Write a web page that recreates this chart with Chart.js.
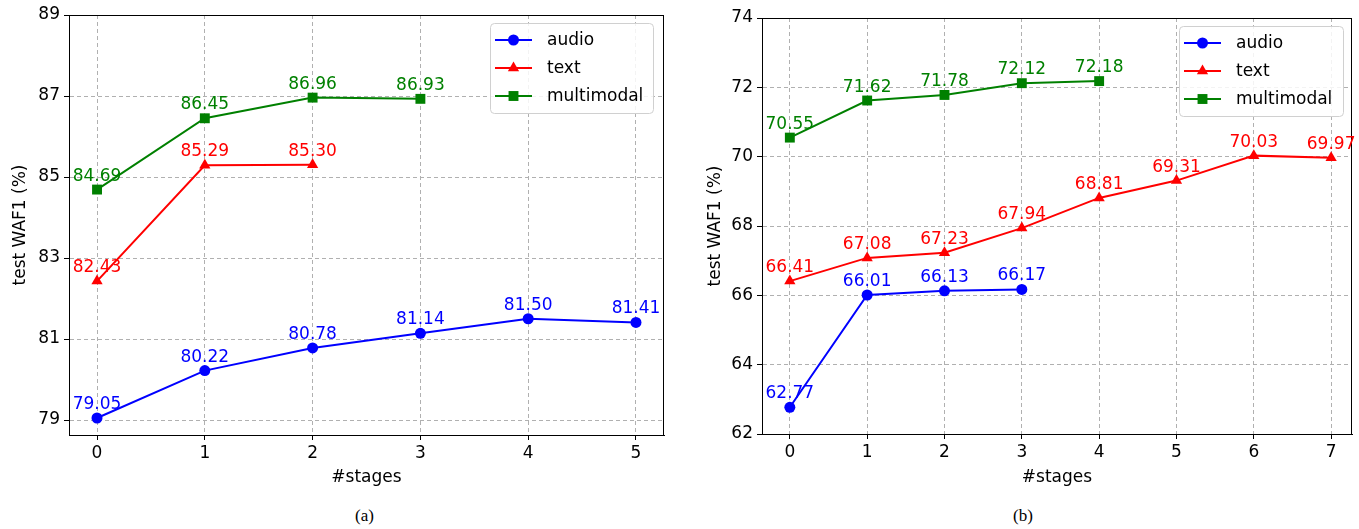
<!DOCTYPE html>
<html>
<head>
<meta charset="utf-8">
<script src="https://cdn.jsdelivr.net/npm/chart.js@4"></script>
<style>
  body { margin: 0; background: #fff; width: 1359px; height: 529px; overflow: hidden; position: relative; }
  canvas { position: absolute; top: 0; }
  #ca { left: 0; }
  #cb { left: 680px; }
  .cap { position: absolute; top: 506px; font-family: "Liberation Serif", serif; font-size: 17px; color: #000; }
</style>
</head>
<body>
<canvas id="ca" width="680" height="492"></canvas>
<canvas id="cb" width="679" height="492"></canvas>
<div class="cap" style="left:355px">(a)</div>
<div class="cap" style="left:1013px">(b)</div>
<script>
// (a) valores
const audioA = [79.05, 80.22, 80.78, 81.14, 81.50, 81.41];
const textA = [82.43, 85.29, 85.30];
const multiA = [84.69, 86.45, 86.96, 86.93];
const yTicksA = [79, 81, 83, 85, 87, 89];
const xTicksA = [0, 1, 2, 3, 4, 5];

// (b)
const audioB = [62.77, 66.01, 66.13, 66.17];
const textB = [66.41, 67.08, 67.23, 67.94, 68.81, 69.31, 70.03, 69.97];
const multiB = [70.55, 71.62, 71.78, 72.12, 72.18];
const yTicksB = [62, 64, 66, 68, 70, 72, 74];
const xTicksB = [0, 1, 2, 3, 4, 5, 6, 7];

const seriesNames = ["audio", "text", "multimodal"];
const cores = ["#0000ff", "#ff0000", "#008000"];
const estilos = ["circle", "triangle", "rect"];
const raios = [5.5, 6.5, 7];

const FONTE = "'DejaVu Sans', sans-serif";
const TAM = 17;

function pontos(valores) {
  return valores.map((v, i) => ({ x: i, y: v }));
}

function montarDatasets(listas) {
  return listas.map((vals, k) => ({
    label: seriesNames[k],
    data: pontos(vals),
    borderColor: cores[k],
    backgroundColor: cores[k],
    borderWidth: 2,
    pointStyle: estilos[k],
    pointRadius: raios[k],
    pointBorderWidth: 0,
    tension: 0
  }));
}

// rótulos de valor em cima de cada ponto + moldura + legenda dentro do gráfico
const extras = {
  id: "extras",
  afterDatasetsDraw(chart) {
    const ctx = chart.ctx;
    const area = chart.chartArea;
    ctx.save();
    // moldura
    ctx.strokeStyle = "#000";
    ctx.lineWidth = 1;
    ctx.strokeRect(area.left + 0.5, area.top + 0.5, area.right - area.left - 1, area.bottom - area.top);
    // rótulos
    ctx.font = TAM + "px " + FONTE;
    ctx.textAlign = "center";
    ctx.textBaseline = "alphabetic";
    chart.data.datasets.forEach((ds, i) => {
      const meta = chart.getDatasetMeta(i);
      ctx.fillStyle = ds.borderColor;
      meta.data.forEach((p, j) => {
        ctx.fillText(ds.data[j].y.toFixed(2), p.x, p.y - 9);
      });
    });
    // legenda
    const lg = chart.options.plugins.legendaInterna;
    const bx = area.right - lg.dx - lg.w;
    const by = area.top + lg.dy;
    ctx.fillStyle = "rgba(255,255,255,0.85)";
    ctx.strokeStyle = "#d0d0d0";
    ctx.lineWidth = 1;
    ctx.beginPath();
    ctx.roundRect(bx + 0.5, by + 0.5, lg.w, lg.h, 4);
    ctx.fill();
    ctx.stroke();
    ctx.textAlign = "left";
    ctx.textBaseline = "middle";
    chart.data.datasets.forEach((ds, i) => {
      const yy = by + 17 + i * 28;
      ctx.strokeStyle = ds.borderColor;
      ctx.fillStyle = ds.borderColor;
      ctx.lineWidth = 2;
      ctx.beginPath();
      ctx.moveTo(bx + 5, yy);
      ctx.lineTo(bx + 42, yy);
      ctx.stroke();
      Chart.helpers.drawPoint(ctx, { pointStyle: ds.pointStyle, radius: ds.pointRadius, borderWidth: 0 }, bx + 23.5, yy);
      ctx.fillStyle = "#000";
      ctx.fillText(ds.label, bx + 57, yy + 1);
    });
    ctx.restore();
  }
};

function criarGrafico(id, listas, xMin, xMax, xTicks, yMin, yMax, yTicks, pad, yW, xH, lg) {
  const ctx = document.getElementById(id).getContext("2d");
  return new Chart(ctx, {
    type: "line",
    data: { datasets: montarDatasets(listas) },
    options: {
      responsive: false,
      animation: false,
      layout: { padding: pad },
      plugins: {
        legend: { display: false },
        tooltip: { enabled: false },
        legendaInterna: lg
      },
      scales: {
        x: {
          type: "linear",
          min: xMin, max: xMax,
          afterBuildTicks: s => { s.ticks = xTicks.map(v => ({ value: v })); },
          afterFit: s => { s.height = xH; },
          ticks: { font: { family: FONTE, size: TAM }, color: "#000", padding: 3 },
          grid: { color: "#b0b0b0", lineWidth: 1, tickColor: "#000", tickLength: 5, tickBorderDash: [] },
          border: { color: "#000", dash: [4, 3] },
          title: { display: true, text: "#stages", font: { family: FONTE, size: TAM }, color: "#000" }
        },
        y: {
          min: yMin, max: yMax,
          afterBuildTicks: s => { s.ticks = yTicks.map(v => ({ value: v })); },
          afterFit: s => { s.width = yW; },
          ticks: { font: { family: FONTE, size: TAM }, color: "#000", padding: 4 },
          grid: { color: "#b0b0b0", lineWidth: 1, tickColor: "#000", tickLength: 5, tickBorderDash: [] },
          border: { color: "#000", dash: [4, 3] },
          title: { display: true, text: "test WAF1 (%)", font: { family: FONTE, size: TAM }, color: "#000" }
        }
      }
    },
    plugins: [extras]
  });
}

criarGrafico("ca", [audioA, textA, multiA], -0.26, 5.26, xTicksA, 78.63, 89, yTicksA,
  { left: 6, top: 15, right: 16, bottom: 0 }, 63, 57, { dx: 11, dy: 8, w: 163, h: 90 });
criarGrafico("cb", [audioB, textB, multiB], -0.36, 7.27, xTicksB, 62, 74, yTicksB,
  { left: 21, top: 18, right: 3, bottom: 0 }, 61, 58, { dx: 9, dy: 8, w: 164, h: 90 });
</script>
</body>
</html>
